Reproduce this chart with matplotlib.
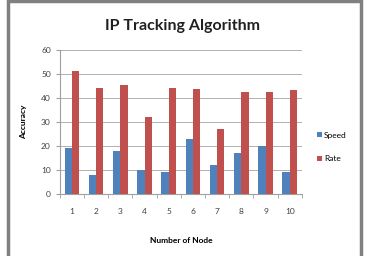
import numpy as np
import matplotlib
matplotlib.use('Agg')
import matplotlib.pyplot as plt
from matplotlib.patches import Rectangle

nodes = ['1', '2', '3', '4', '5', '6', '7', '8', '9', '10']
speed = [19, 8, 18, 10, 9, 23, 12, 17, 20, 9]
rate = [51.4, 44.3, 45.4, 32, 44, 43.7, 27, 42.5, 42.3, 43.2]

plt.rcParams['font.family'] = ['Lato', 'DejaVu Sans']

fig = plt.figure(figsize=(3.65, 2.56), dpi=100)
ax = fig.add_axes([0.164, 0.242, 0.663, 0.563])

x = np.arange(len(nodes))
w = 0.3
ax.bar(x - w/2, speed, w, color='#4F81BD', label='Speed', zorder=3)
ax.bar(x + w/2, rate, w, color='#C0504D', label='Rate', zorder=3)

ax.set_xlim(-0.5, len(nodes) - 0.5)
ax.set_ylim(0, 60)
ax.set_yticks([0, 10, 20, 30, 40, 50, 60])
ax.set_xticks(x)
ax.set_xticklabels(nodes)
ax.set_xticks(np.arange(-0.5, len(nodes)), minor=True)
ax.tick_params(axis='x', which='major', length=0, labelsize=6, colors='#404040', pad=10)
ax.tick_params(axis='x', which='minor', length=3, color='#A0A0A0')
ax.tick_params(axis='y', length=3, color='#A0A0A0', labelsize=6, labelcolor='#404040')
ax.grid(axis='y', color='#B0B0B0', linewidth=0.7, zorder=0)
for s in ['top', 'right']:
    ax.spines[s].set_visible(False)
ax.spines['left'].set_color('#A0A0A0')
ax.spines['bottom'].set_color('#A0A0A0')

ax.set_xlabel('Number of Node', fontsize=6, fontweight='bold', labelpad=16)
ax.set_ylabel('Accuracy', fontsize=6, fontweight='bold', labelpad=10)
fig.text(0.5, 0.9, 'IP Tracking Algorithm', ha='center', va='center', fontsize=11.5, fontweight='bold', color='#202020')

ax.legend(loc='center left', bbox_to_anchor=(1.03, 0.326), frameon=False, fontsize=6,
          handlelength=0.6, handleheight=0.6, handletextpad=0.3, labelspacing=2.0)

fig.patches.append(Rectangle((8/365, -0.1), 353/365, 1.095, transform=fig.transFigure,
                             fill=False, edgecolor='#808080', linewidth=2.5))

fig.savefig('out.png', dpi=100)
